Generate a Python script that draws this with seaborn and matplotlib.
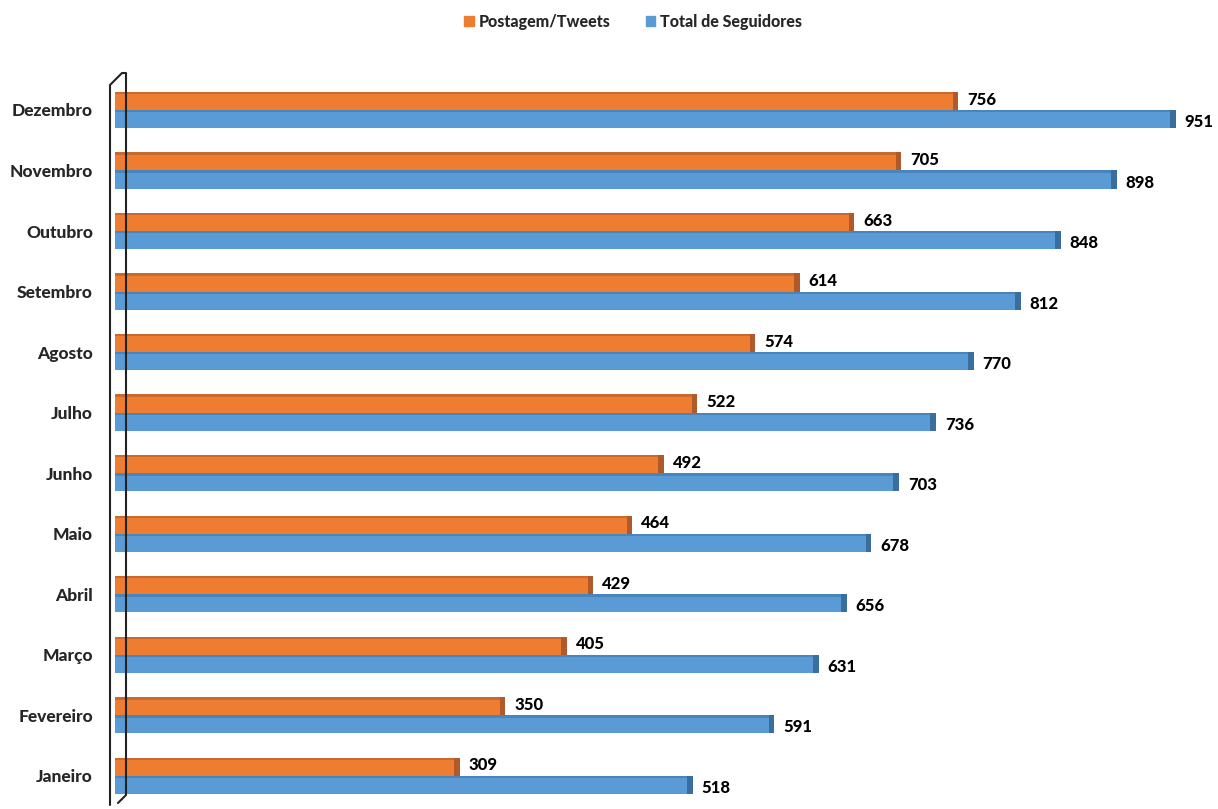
import pandas as pd
import numpy as np
import matplotlib.pyplot as plt
import seaborn as sns
from matplotlib.lines import Line2D

# Data (top to bottom)
meses = ["Dezembro", "Novembro", "Outubro", "Setembro", "Agosto", "Julho",
         "Junho", "Maio", "Abril", "Março", "Fevereiro", "Janeiro"]
postagem = [756, 705, 663, 614, 574, 522, 492, 464, 429, 405, 350, 309]
seguidores = [951, 898, 848, 812, 770, 736, 703, 678, 656, 631, 591, 518]

series = ["Postagem/Tweets", "Total de Seguidores"]
cores = ["#EE7D31", "#5B9BD5"]
cores_topo = ["#C8692E", "#4A84BC"]
cores_escuras = ["#B0592A", "#3A6E9E"]

df = pd.DataFrame({
    "Mes": meses * 2,
    "Valor": postagem + seguidores,
    "Serie": [series[0]] * len(meses) + [series[1]] * len(meses),
})

sns.set_style("white")
plt.rcParams['font.family'] = ['Lato', 'DejaVu Sans']

fig = plt.figure(figsize=(12.18, 8.09), dpi=100)
ax = fig.add_axes([115 / 1218, 9 / 809, 1 - 115 / 1218, 730 / 809])

sns.barplot(data=df, y="Mes", x="Valor", hue="Serie", order=meses,
            hue_order=series, palette=cores, orient="h", width=0.6,
            saturation=1, ax=ax, legend=False, edgecolor="none", linewidth=0)

# 3D-ish look: darker top edge and end cap
pos = np.arange(len(meses))
cap = 5
for vals, off, top, dark in [(postagem, -0.15, cores_topo[0], cores_escuras[0]),
                             (seguidores, 0.15, cores_topo[1], cores_escuras[1])]:
    v = np.array(vals)
    ax.barh(pos + off - 0.13, v, left=0, height=0.04, color=top, zorder=3, linewidth=0)
    ax.barh(pos + off, cap, left=v - cap, height=0.3, color=dark, zorder=4, linewidth=0)

# value labels
for i in range(len(meses)):
    ax.text(postagem[i] + 8, pos[i] - 0.17, str(postagem[i]), va="center", ha="left",
            fontsize=12, fontweight="black", color="black")
    ax.text(seguidores[i] + 8, pos[i] + 0.2, str(seguidores[i]), va="center", ha="left",
            fontsize=12, fontweight="black", color="black")

ax.set_xlim(0, 989)
ax.set_ylim(11.4, -0.66)
ax.set_xlabel("")
ax.set_ylabel("")
ax.set_xticks([])
ax.tick_params(axis="y", length=0, pad=16)
for lab in ax.get_yticklabels():
    lab.set_fontweight("black")
    lab.set_fontsize(12.5)
for s in ax.spines.values():
    s.set_visible(False)

# wall edge on the left
def px(x, y):
    return (x / 1218, 1 - y / 809)

wall = [(110, 805), (110, 85), (122, 73), (126, 73), (126, 795), (118, 803)]
xs, ys = zip(*[px(*p) for p in wall])
fig.add_artist(Line2D(xs, ys, color="#222222", lw=1.5, transform=fig.transFigure))

# legend
handles = [plt.Rectangle((0, 0), 1, 1, color=c) for c in cores]
fig.legend(handles, series, loc="center", bbox_to_anchor=(0.52, 1 - 22 / 809),
           ncol=2, frameon=False, handlelength=0.6, handleheight=0.6,
           handletextpad=0.3, columnspacing=2.2,
           prop={"weight": "black", "size": 11.5})

fig.savefig("out.png", dpi=100)
